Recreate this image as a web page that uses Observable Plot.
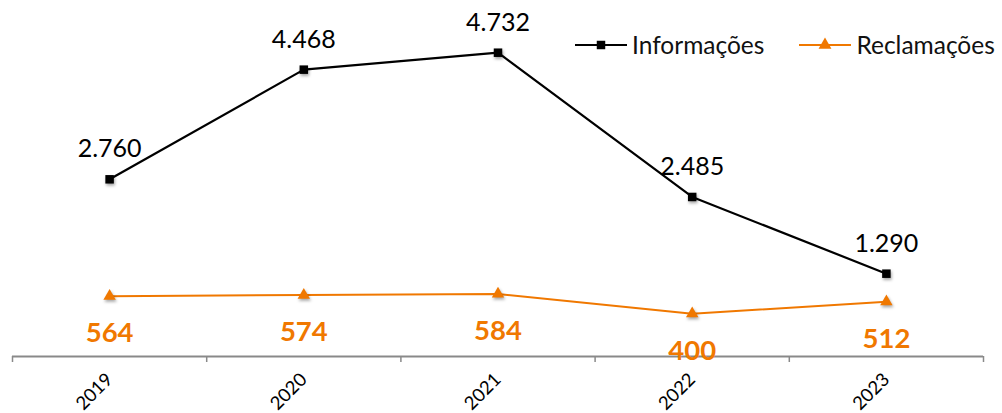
<!DOCTYPE html>
<html><head><meta charset="utf-8">
<script src="https://cdn.jsdelivr.net/npm/d3@7"></script>
<script src="https://cdn.jsdelivr.net/npm/@observablehq/plot@0.6"></script>
<style>
body{margin:0;background:#fff;font-family:Lato,sans-serif;}
#wrap{position:relative;width:1002px;height:413px;overflow:hidden;}
#legend{position:absolute;top:30px;left:574px;display:flex;align-items:center;font-size:24.5px;color:#111;white-space:nowrap;}
#legend .item{display:flex;align-items:center;margin-right:34px;}
#legend svg{margin-right:4px;}
g[aria-label="dot"] path{filter:drop-shadow(1px 2px 1.5px rgba(0,0,0,0.35));}
</style></head>
<body><div id="wrap"><div id="legend"></div></div>
<script>
const years = ["2019","2020","2021","2022","2023"];
const informacoes = [2760,4468,4732,2485,1290];
const reclamacoes = [564,574,584,400,512];
const primaryMax = 5000, secondaryMax = 3000;
const black = "#000", orange = "#F07800";

const fmt = d3.formatLocale({decimal:",",thousands:".",grouping:[3],currency:["",""]}).format(",d");
const toPrimary = v => v * primaryMax / secondaryMax;

const info = years.map((y,i)=>({i, year:y, v:informacoes[i]}));
const recl = years.map((y,i)=>({i, year:y, v:reclamacoes[i], p:toPrimary(reclamacoes[i])}));
const edges = d3.range(-0.5, years.length, 1);

const chart = Plot.plot({
  width:1002, height:413,
  marginLeft:12, marginRight:19, marginTop:35, marginBottom:57,
  style:{fontFamily:"Lato, sans-serif", background:"transparent", overflow:"visible"},
  x:{type:"linear", domain:[-0.5, years.length-0.5], label:null},
  y:{domain:[0, primaryMax], axis:null},
  marks:[
    Plot.axisX({ticks:edges, tickFormat:()=>"", tickSize:6, stroke:"#898989", strokeWidth:1.5, label:null}),
    Plot.axisX({ticks:d3.range(years.length), tickFormat:i=>years[i], tickSize:0, tickRotate:-45, tickPadding:20, dx:0, fontSize:18.5, fill:"#000", label:null}),
    Plot.ruleY([0], {stroke:"#898989", strokeWidth:2}),
    Plot.line(recl, {x:"i", y:"p", stroke:orange, strokeWidth:2}),
    Plot.line(info, {x:"i", y:"v", stroke:black, strokeWidth:2.2}),
    Plot.dot(recl, {x:"i", y:"p", symbol:"triangle", r:4.6, fill:orange, stroke:"none"}),
    Plot.dot(info, {x:"i", y:"v", symbol:"square", r:4.8, fill:black, stroke:"none"}),
    Plot.text(info, {x:"i", y:"v", text:d=>fmt(d.v), dy:-30, fontSize:25, fill:"#000"}),
    Plot.text(recl, {x:"i", y:"p", text:d=>fmt(d.v), dy:37, fontSize:27.5, fontWeight:"bold", fill:orange})
  ]
});
document.getElementById("wrap").appendChild(chart);

const legendItems = [
  {label:"Informações", color:black, symbol:"square"},
  {label:"Reclamações", color:orange, symbol:"triangle"}
];
const leg = d3.select("#legend");
legendItems.forEach(it=>{
  const item = leg.append("div").attr("class","item");
  const s = item.append("svg").attr("width",54).attr("height",20);
  s.append("line").attr("x1",1).attr("x2",53).attr("y1",10).attr("y2",10).attr("stroke",it.color).attr("stroke-width",2.2);
  s.append("path").attr("transform","translate(27,10)").attr("d", d3.symbol(it.symbol==="square"?d3.symbolSquare:d3.symbolTriangle, 72)()).attr("fill",it.color);
  item.append("span").text(it.label);
});
</script></body></html>
